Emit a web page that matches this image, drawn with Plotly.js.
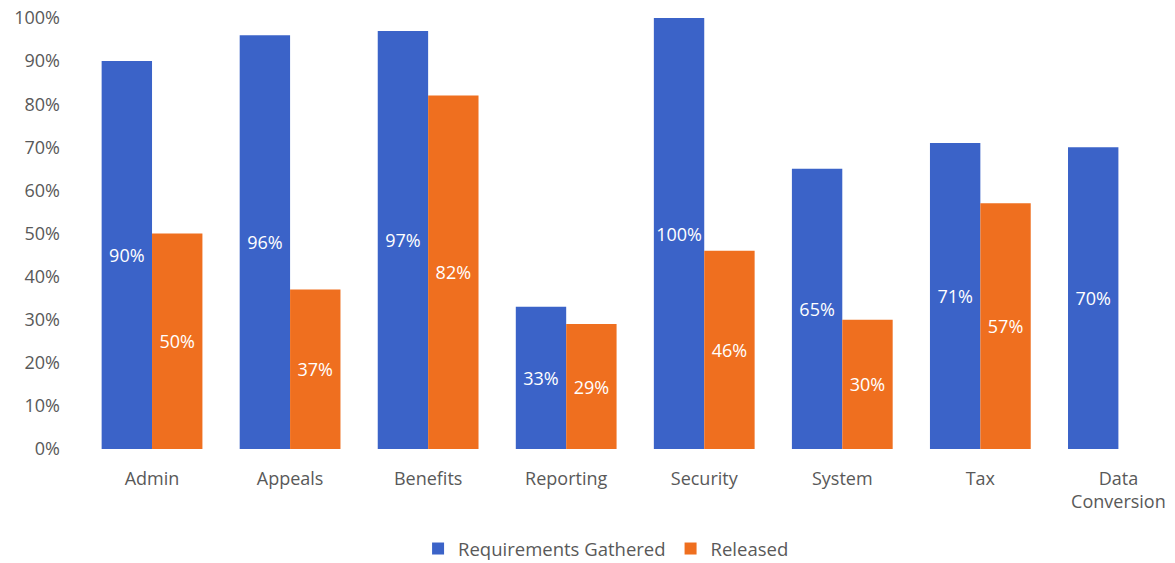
<!DOCTYPE html>
<html>
<head>
<meta charset="utf-8">
<script src="https://cdn.plot.ly/plotly-3.0.1.min.js"></script>
<style>html,body{margin:0;padding:0;background:#fff;}#chart{width:1175px;height:563px;}</style>
</head>
<body>
<div id="chart"></div>
<script>
const categories = ["Admin", "Appeals", "Benefits", "Reporting", "Security", "System", "Tax", "Data<br>Conversion"];
const requirementsGathered = [90, 96, 97, 33, 100, 65, 71, 70];
const released = [50, 37, 82, 29, 46, 30, 57, null];
const yTicks = [0, 10, 20, 30, 40, 50, 60, 70, 80, 90, 100];

const font = "Open Sans, Liberation Sans, sans-serif";
const pct = arr => arr.map(v => (v === null ? "" : v + "%"));
const traces = [
  {
    type: "bar", name: "Requirements Gathered", x: categories, y: requirementsGathered,
    marker: {color: "#3b63c8"},
    text: pct(requirementsGathered), texttemplate: "%{text}",
    textposition: "inside", insidetextanchor: "middle", constraintext: "none",
    textfont: {color: "#ffffff", size: 18, family: font}, textangle: 0,
    hoverinfo: "none"
  },
  {
    type: "bar", name: "Released", x: categories, y: released,
    marker: {color: "#ef6f1f"},
    text: pct(released), texttemplate: "%{text}",
    textposition: "inside", insidetextanchor: "middle", constraintext: "none",
    textfont: {color: "#ffffff", size: 18, family: font}, textangle: 0,
    hoverinfo: "none"
  }
];

const layout = {
  width: 1175, height: 563,
  margin: {l: 83, r: 0, t: 18, b: 114, autoexpand: false},
  paper_bgcolor: "#ffffff", plot_bgcolor: "#ffffff",
  barmode: "group", bargap: 0.27, bargroupgap: 0,
  font: {family: font, color: "#595959"},
  showlegend: true,
  legend: {orientation: "h", x: 0.479, xanchor: "center", y: -0.232, yanchor: "middle",
           font: {size: 18.5, color: "#595959", family: font}, itemwidth: 30},
  xaxis: {
    type: "category", range: [-0.5, 7.41], showgrid: false, zeroline: false, showline: false,
    ticks: "", tickfont: {size: 18, color: "#595959", family: font}, ticklabelstandoff: 17
  },
  yaxis: {
    range: [0, 100], tickvals: yTicks, ticktext: yTicks.map(v => v + "%"),
    showgrid: false, zeroline: false, showline: false, ticks: "",
    tickfont: {size: 18, color: "#595959", family: font}, ticklabelstandoff: 22
  }
};

Plotly.newPlot("chart", traces, layout, {displayModeBar: false, staticPlot: true});
</script>
</body>
</html>
